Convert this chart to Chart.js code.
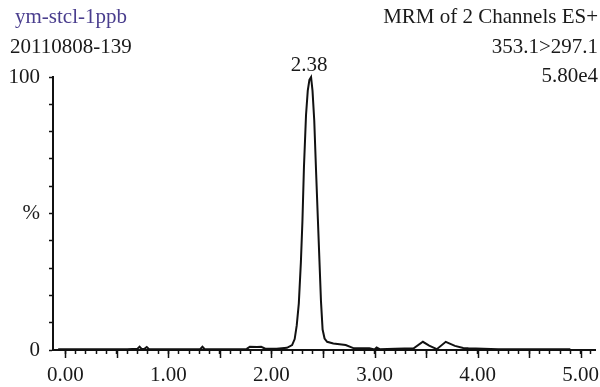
<!DOCTYPE html>
<html>
<head>
<meta charset="utf-8">
<script src="https://cdn.jsdelivr.net/npm/chart.js@4"></script>
<style>
  body { margin: 0; background: #fff; }
  #wrap { position: relative; width: 600px; height: 387px; }
  .hd { position: absolute; font-family: "Liberation Serif", "Times New Roman", serif; font-size: 21px; line-height: 21px; color: #1a1a1a; white-space: nowrap; }
  .l { left: 15px; }
  .r { right: 2px; text-align: right; }
</style>
</head>
<body>
<div id="wrap">
  <canvas id="myChart" width="600" height="387"></canvas>
  <div class="hd l" style="top:6px; color:#4a3e8e;">ym-stcl-1ppb</div>
  <div class="hd" style="top:36px; left:10px;">20110808-139</div>
  <div class="hd r" style="top:6px;">MRM of 2 Channels ES+</div>
  <div class="hd r" style="top:36px;">353.1&gt;297.1</div>
  <div class="hd r" style="top:65px;">5.80e4</div>
</div>
<script>
// retention time (min) and relative intensity (%)
const rtMin = [-0.07, 0.30, 0.60, 0.70, 0.72, 0.74, 0.77, 0.79, 0.81, 1.00,
  1.31, 1.33, 1.35, 1.60, 1.76, 1.79, 1.86, 1.90, 1.94, 2.05,
  2.15, 2.20, 2.225, 2.245, 2.265, 2.285, 2.30, 2.315, 2.335, 2.352,
  2.368, 2.384, 2.398, 2.415, 2.432, 2.45, 2.465, 2.48, 2.496, 2.515,
  2.54, 2.60, 2.72, 2.80, 2.95, 3.00, 3.02, 3.05, 3.20, 3.38,
  3.469, 3.53, 3.604, 3.691, 3.78, 3.86, 3.91, 4.20, 4.60, 4.90];
const intensity = [0.3, 0.3, 0.3, 0.5, 1.2, 0.4, 0.5, 1.1, 0.4, 0.3,
  0.4, 1.2, 0.4, 0.3, 0.4, 1.2, 1.1, 1.2, 0.5, 0.5,
  0.8, 1.8, 4.0, 9.0, 17, 32, 47, 67, 86, 95,
  99, 100, 95, 84, 66, 48, 33, 18, 7.5, 4.2,
  3.0, 2.4, 1.8, 0.6, 0.6, 0.2, 0.9, 0.3, 0.5, 0.6,
  3.0, 1.6, 0.3, 3.0, 1.5, 0.7, 0.6, 0.3, 0.3, 0.3];

const xTickLabels = ['0.00', '1.00', '2.00', '3.00', '4.00', '5.00'];
const yTickLabels = {0: '0', 50: '%', 100: '100'};

const serif = "'Liberation Serif', 'Times New Roman', serif";

// longer ticks every 0.5 min + peak label
const extras = {
  id: 'extras',
  afterDraw(chart) {
    const ctx = chart.ctx;
    const x = chart.scales.x;
    const bottom = chart.chartArea.bottom;
    ctx.save();
    ctx.strokeStyle = '#111';
    ctx.lineWidth = 1.5;
    for (let i = 0; i <= 10; i++) {
      const px = Math.round(x.getPixelForValue(i / 2)) + 0.5;
      ctx.beginPath();
      ctx.moveTo(px, bottom);
      ctx.lineTo(px, bottom + 8);
      ctx.stroke();
    }
    let k = 0;
    intensity.forEach((v, i) => { if (v > intensity[k]) k = i; });
    const py = chart.scales.y.getPixelForValue(intensity[k]);
    ctx.fillStyle = '#1a1a1a';
    ctx.font = '21px ' + serif;
    ctx.textAlign = 'center';
    ctx.textBaseline = 'alphabetic';
    ctx.fillText(rtMin[k].toFixed(2), x.getPixelForValue(rtMin[k]) - 2, py - 6);
    ctx.restore();
  }
};

const ctx = document.getElementById('myChart');
new Chart(ctx, {
  type: 'line',
  data: {
    datasets: [{
      data: rtMin.map((t, i) => ({x: t, y: intensity[i]})),
      borderColor: '#111',
      borderWidth: 2,
      pointRadius: 0,
      tension: 0,
      fill: false
    }]
  },
  options: {
    responsive: false,
    animation: false,
    events: [],
    clip: false,
    layout: { padding: { top: 77, right: 3, left: 0, bottom: 0 } },
    plugins: { legend: { display: false }, tooltip: { enabled: false } },
    scales: {
      x: {
        type: 'linear',
        min: -0.12,
        max: 5.14,
        afterBuildTicks: (s) => {
          const t = [];
          for (let i = 0; i <= 51; i++) t.push({value: i / 10});
          s.ticks = t;
        },
        afterFit: (s) => { s.height = 37; },
        ticks: {
          autoSkip: false,
          maxRotation: 0,
          padding: 9,
          color: '#1a1a1a',
          font: { family: serif, size: 21 },
          callback: (v) => {
            const r = Math.round(v);
            return Math.abs(v - r) < 1e-6 ? xTickLabels[r] : '';
          }
        },
        grid: { drawOnChartArea: false, tickLength: 4, tickWidth: 1.5, color: '#111' },
        border: { display: true, color: '#111', width: 2 }
      },
      y: {
        min: 0,
        max: 100,
        afterBuildTicks: (s) => {
          const t = [];
          for (let i = 0; i <= 10; i++) t.push({value: i * 10});
          s.ticks = t;
        },
        afterFit: (s) => { s.width = 53; },
        ticks: {
          autoSkip: false,
          padding: 9,
          color: '#1a1a1a',
          font: { family: serif, size: 21 },
          callback: (v) => yTickLabels[v] !== undefined ? yTickLabels[v] : ''
        },
        grid: { drawOnChartArea: false, tickLength: 4, tickWidth: 1.5, color: '#111' },
        border: { display: true, color: '#111', width: 2 }
      }
    }
  },
  plugins: [extras]
});
</script>
</body>
</html>
